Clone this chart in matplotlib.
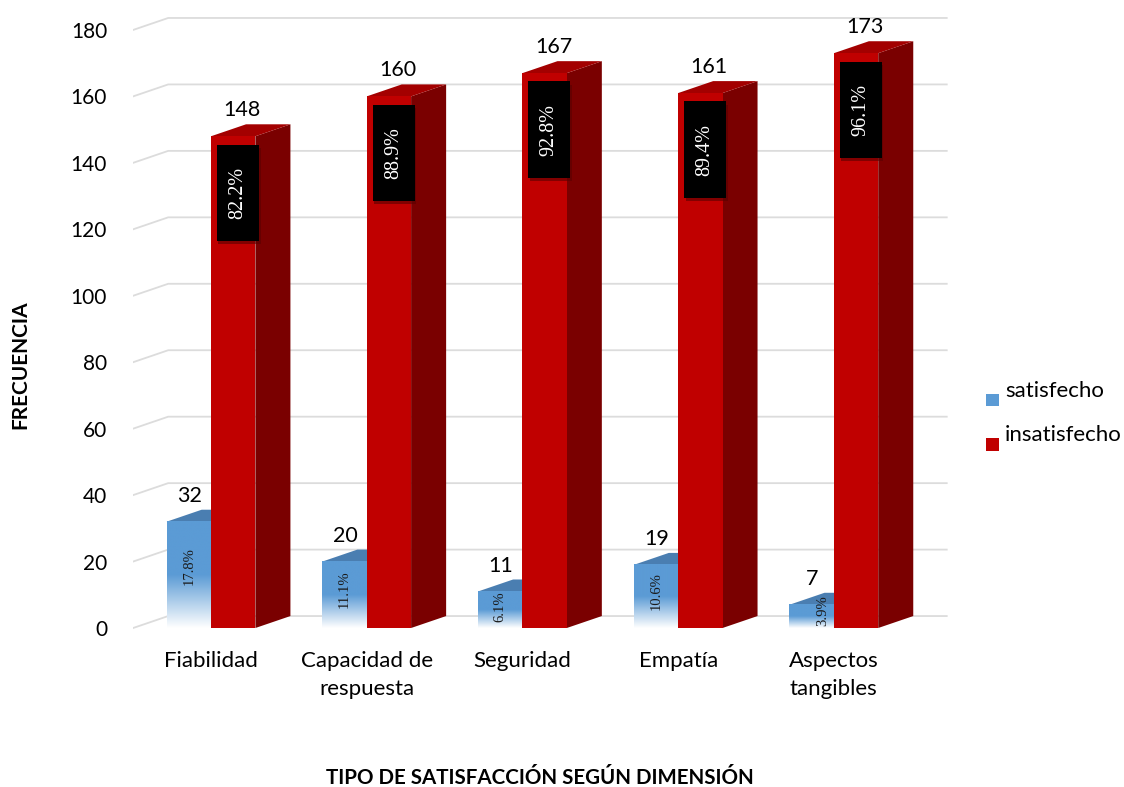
import numpy as np
import matplotlib.pyplot as plt
from matplotlib.patches import Polygon, Rectangle
from matplotlib.colors import LinearSegmentedColormap

# Data
categories = ["Fiabilidad", "Capacidad de\nrespuesta", "Seguridad", "Empatía", "Aspectos\ntangibles"]
satisfecho = [32, 20, 11, 19, 7]
insatisfecho = [148, 160, 167, 161, 173]
pct_sat = ["17.8%", "11.1%", "6.1%", "10.6%", "3.9%"]
pct_insat = ["82.2%", "88.9%", "92.8%", "89.4%", "96.1%"]
yticks = [0, 20, 40, 60, 80, 100, 120, 140, 160, 180]

# 3D look parameters (data units)
w = 0.285      # bar width
dx = 0.225     # depth offset in x
dy = 3.6       # depth offset in y

blue = "#5b9bd5"
blue_top = "#4a7eb1"
red = "#c00000"
red_top = "#a30000"
red_side = "#7a0000"

font = "Lato"
serif = "Liberation Serif"

fig = plt.figure(figsize=(11.24, 7.87), dpi=100)
ax = fig.add_axes([133 / 1124, (787 - 640) / 787, (950 - 133) / 1124, 630 / 787])
ax.set_xlim(-0.501, 4.746)
ax.set_ylim(-3.61, 186)
for s in ax.spines.values():
    s.set_visible(False)

# Gridlines: slanted side wall segment + back wall
x0, x1 = -0.5, 4.5
for v in yticks:
    ax.plot([x0, x0 + dx, x1 + dx], [v, v + dy, v + dy], color="#dcdcdc", lw=1.3, zorder=1)

grad_cmap = LinearSegmentedColormap.from_list("g", [(0, "white"), (0.5, blue), (1, blue)])
grad = np.linspace(0, 1, 256).reshape(-1, 1)

for i in range(len(categories)):
    # blue bar (left of center)
    bl, br = i - w, i
    v = satisfecho[i]
    ax.add_patch(Polygon([(bl, v), (br, v), (br + dx, v + dy), (bl + dx, v + dy)],
                         closed=True, facecolor=blue_top, edgecolor="none", zorder=2))
    ax.imshow(grad, extent=(bl, br, 0, v), origin="lower", cmap=grad_cmap,
              aspect="auto", zorder=3, interpolation="bilinear")

    # red bar (right of center)
    rl, rr = i, i + w
    v2 = insatisfecho[i]
    ax.add_patch(Polygon([(rr, 0), (rr + dx, dy), (rr + dx, v2 + dy), (rr, v2)],
                         closed=True, facecolor=red_side, edgecolor="none", zorder=4))
    ax.add_patch(Polygon([(rl, v2), (rr, v2), (rr + dx, v2 + dy), (rl + dx, v2 + dy)],
                         closed=True, facecolor=red_top, edgecolor="none", zorder=4))
    ax.add_patch(Rectangle((rl, 0), w, v2, facecolor=red, edgecolor="none", zorder=5))

    # percent box on red bar
    bw, bh = 0.27, 29
    cx, cy = i + 0.173, v2 - 17
    ax.add_patch(Rectangle((cx - bw / 2 + 0.01, cy - bh / 2 - 1), bw, bh,
                           facecolor="#5a0000", edgecolor="none", alpha=0.6, zorder=6))
    ax.add_patch(Rectangle((cx - bw / 2, cy - bh / 2), bw, bh,
                           facecolor="black", edgecolor="none", zorder=7))
    ax.text(cx, cy, pct_insat[i], rotation=90, ha="center", va="center",
            color="white", fontsize=14.5, family=serif, zorder=8)

    # percent on blue bar
    ax.text(bl + w / 2 if v > 8 else bl + w * 0.75, max(v * 0.58, 5.1), pct_sat[i],
            rotation=90, ha="center", va="center", color="#1a1a1a",
            fontsize=10.5, family=serif, zorder=8)

    # value labels
    ax.text(i - 0.137, v + 7.8, str(v), ha="center", va="center",
            fontsize=15.5, family=font, color="black", zorder=8)
    ax.text(i + 0.2, v2 + 7.8, str(v2), ha="center", va="center",
            fontsize=15.5, family=font, color="black", zorder=8)

ax.set_yticks(yticks)
ax.set_yticklabels([str(t) for t in yticks], fontsize=15, family=font)
ax.tick_params(axis="y", length=0, pad=18.7)
ax.set_xticks(range(len(categories)))
ax.set_xticklabels(categories, fontsize=16, family=font, linespacing=1.5)
ax.tick_params(axis="x", length=0, pad=8)

fig.text(20 / 1124, 1 - 365 / 787, "FRECUENCIA", rotation=90, ha="center", va="center",
         fontsize=15, fontweight="bold", family=font)
fig.text(540 / 1124, 1 - 778 / 787, "TIPO DE SATISFACCIÓN SEGÚN DIMENSIÓN", ha="center",
         va="center", fontsize=14.8, fontweight="bold", family=font)

# legend
for yy, col, lab in [(400, blue, "satisfecho"), (444, red, "insatisfecho")]:
    fig.add_artist(Rectangle((986 / 1124, 1 - (yy + 6.5) / 787), 13 / 1124, 13 / 787,
                             facecolor=col, edgecolor="none", transform=fig.transFigure))
    fig.text(1005 / 1124, 1 - (yy - 9) / 787, lab, ha="left", va="center",
             fontsize=16, family=font)

fig.savefig("out.png", dpi=100)
